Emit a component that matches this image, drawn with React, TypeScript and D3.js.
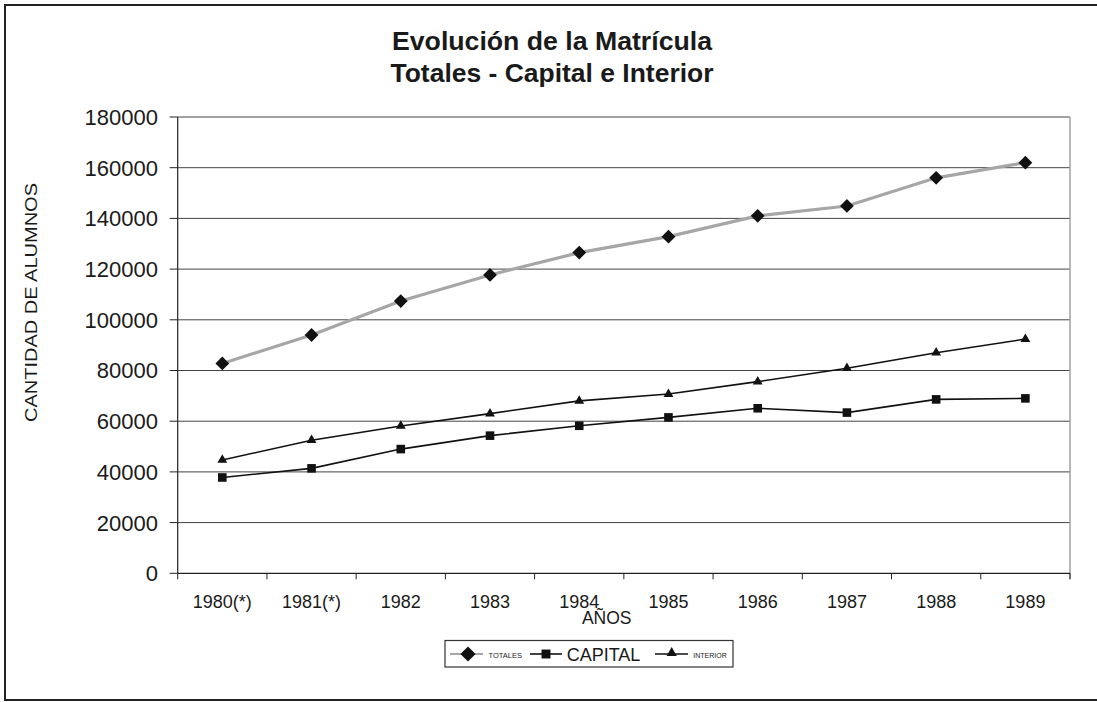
import React from "react";
import * as d3 from "d3";

const categories = ["1980(*)", "1981(*)", "1982", "1983", "1984", "1985", "1986", "1987", "1988", "1989"];
const totales = [82800, 94000, 107400, 117700, 126500, 132800, 141000, 144900, 156000, 162000];
const capital = [37800, 41400, 49000, 54300, 58200, 61500, 65100, 63400, 68600, 69000];
const interior = [44700, 52500, 58100, 63000, 68000, 70700, 75600, 80900, 87000, 92400];
const yTicks = [0, 20000, 40000, 60000, 80000, 100000, 120000, 140000, 160000, 180000];
const titleLines = ["Evolución de la Matrícula", "Totales - Capital e Interior"];
const seriesNames = ["TOTALES", "CAPITAL", "INTERIOR"];

const W = 1097;
const H = 702;
const FONT = "'Liberation Sans', Arial, Helvetica, sans-serif";

export default function App() {
  const x = d3.scaleBand<string>().domain(categories).range([177.7, 1070]).padding(0);
  const y = d3.scaleLinear().domain([0, 180000]).range([573.3, 117]);
  const cx = (c: string) => (x(c) ?? 0) + x.bandwidth() / 2;

  const line = d3
    .line<number>()
    .x((_, i) => cx(categories[i]))
    .y((d) => y(d));

  const diamond = d3.symbol().type(d3.symbolSquare).size(95)();
  const diamondLeg = d3.symbol().type(d3.symbolSquare).size(115)();
  const square = d3.symbol().type(d3.symbolSquare).size(74)();
  const squareLeg = d3.symbol().type(d3.symbolSquare).size(80)();
  const tri = d3.symbol().type(d3.symbolTriangle).size(42)();
  const triLeg = d3.symbol().type(d3.symbolTriangle).size(45)();

  const x0 = x.range()[0];
  const x1 = x.range()[1];
  const bounds = categories.map((c) => x(c) ?? 0).concat([x1]);

  return (
    <div style={{ position: "absolute", left: 0, top: 0 }}>
      <svg width={W} height={H} style={{ display: "block", background: "#fff" }} fontFamily={FONT}>
        <rect x={0} y={0} width={W} height={H} fill="#fff" />
        {/* outer border */}
        <path d={`M${W},5 H5 V700 H${W}`} fill="none" stroke="#222" strokeWidth={2} />

        {/* title */}
        <text x={552} y={50} textAnchor="middle" fontWeight="bold" fontSize={25.5} fill="#1a1a1a"
          textLength={320} lengthAdjust="spacingAndGlyphs">
          {titleLines[0]}
        </text>
        <text x={552} y={82} textAnchor="middle" fontWeight="bold" fontSize={25.5} fill="#1a1a1a"
          textLength={323} lengthAdjust="spacingAndGlyphs">
          {titleLines[1]}
        </text>

        {/* gridlines */}
        {yTicks.filter((t) => t > 0).map((t) => (
          <line key={t} x1={x0} x2={x1} y1={y(t)} y2={y(t)} stroke="#444" strokeWidth={1} />
        ))}
        {/* plot right border */}
        <line x1={x1} x2={x1} y1={y(180000)} y2={y(0) + 6} stroke="#a0a0a0" strokeWidth={1.5} />

        {/* y axis */}
        <line x1={x0} x2={x0} y1={y(180000)} y2={y(0)} stroke="#222" strokeWidth={1.2} />
        {yTicks.map((t) => (
          <g key={t}>
            <line x1={x0 - 8} x2={x0} y1={y(t)} y2={y(t)} stroke="#222" strokeWidth={1} />
            <text x={158} y={y(t)} dy="0.36em" textAnchor="end" fontSize={22} fill="#1a1a1a">
              {t}
            </text>
          </g>
        ))}

        {/* x axis */}
        <line x1={x0} x2={x1} y1={y(0)} y2={y(0)} stroke="#222" strokeWidth={1.2} />
        {bounds.map((b, i) => (
          <line key={i} x1={b} x2={b} y1={y(0)} y2={y(0) + 6} stroke="#222" strokeWidth={1} />
        ))}
        {categories.map((c) => (
          <text key={c} x={cx(c)} y={608} textAnchor="middle" fontSize={18} fill="#1a1a1a">
            {c}
          </text>
        ))}

        {/* axis titles */}
        <text x={606.7} y={623.5} textAnchor="middle" fontSize={17.5} fill="#1a1a1a">
          AÑOS
        </text>
        <text
          transform="translate(37,302.5) rotate(-90)"
          textAnchor="middle"
          fontSize={16.5}
          fill="#1a1a1a"
          textLength={239}
          lengthAdjust="spacingAndGlyphs"
        >
          CANTIDAD DE ALUMNOS
        </text>

        {/* series lines */}
        <path d={line(totales) ?? ""} fill="none" stroke="#a6a6a6" strokeWidth={3.2} />
        <path d={line(capital) ?? ""} fill="none" stroke="#111" strokeWidth={1.6} />
        <path d={line(interior) ?? ""} fill="none" stroke="#111" strokeWidth={1.6} />

        {/* markers */}
        {totales.map((v, i) => (
          <path key={"t" + i} d={diamond ?? ""} transform={`translate(${cx(categories[i])},${y(v)}) rotate(45)`} fill="#111" />
        ))}
        {capital.map((v, i) => (
          <path key={"c" + i} d={square ?? ""} transform={`translate(${cx(categories[i])},${y(v)})`} fill="#111" />
        ))}
        {interior.map((v, i) => (
          <path key={"n" + i} d={tri ?? ""} transform={`translate(${cx(categories[i])},${y(v)})`} fill="#111" />
        ))}

        {/* legend */}
        <rect x={445} y={640.5} width={288} height={26.5} fill="#fff" stroke="#333" strokeWidth={1.2} />
        <line x1={450} x2={483} y1={654} y2={654} stroke="#a6a6a6" strokeWidth={2} />
        <path d={diamondLeg ?? ""} transform="translate(468,654) rotate(45)" fill="#111" />
        <text x={488.5} y={658.3} fontSize={7.5} fill="#1a1a1a">{seriesNames[0]}</text>

        <line x1={530} x2={562} y1={654} y2={654} stroke="#111" strokeWidth={1.6} />
        <path d={squareLeg ?? ""} transform="translate(546,654)" fill="#111" />
        <text x={566.7} y={660.7} fontSize={18} fill="#1a1a1a">{seriesNames[1]}</text>

        <line x1={655} x2={688} y1={654} y2={654} stroke="#111" strokeWidth={1.6} />
        <path d={triLeg ?? ""} transform="translate(671.7,653)" fill="#111" />
        <text x={693.3} y={658.3} fontSize={7} fill="#1a1a1a">{seriesNames[2]}</text>
      </svg>
    </div>
  );
}
